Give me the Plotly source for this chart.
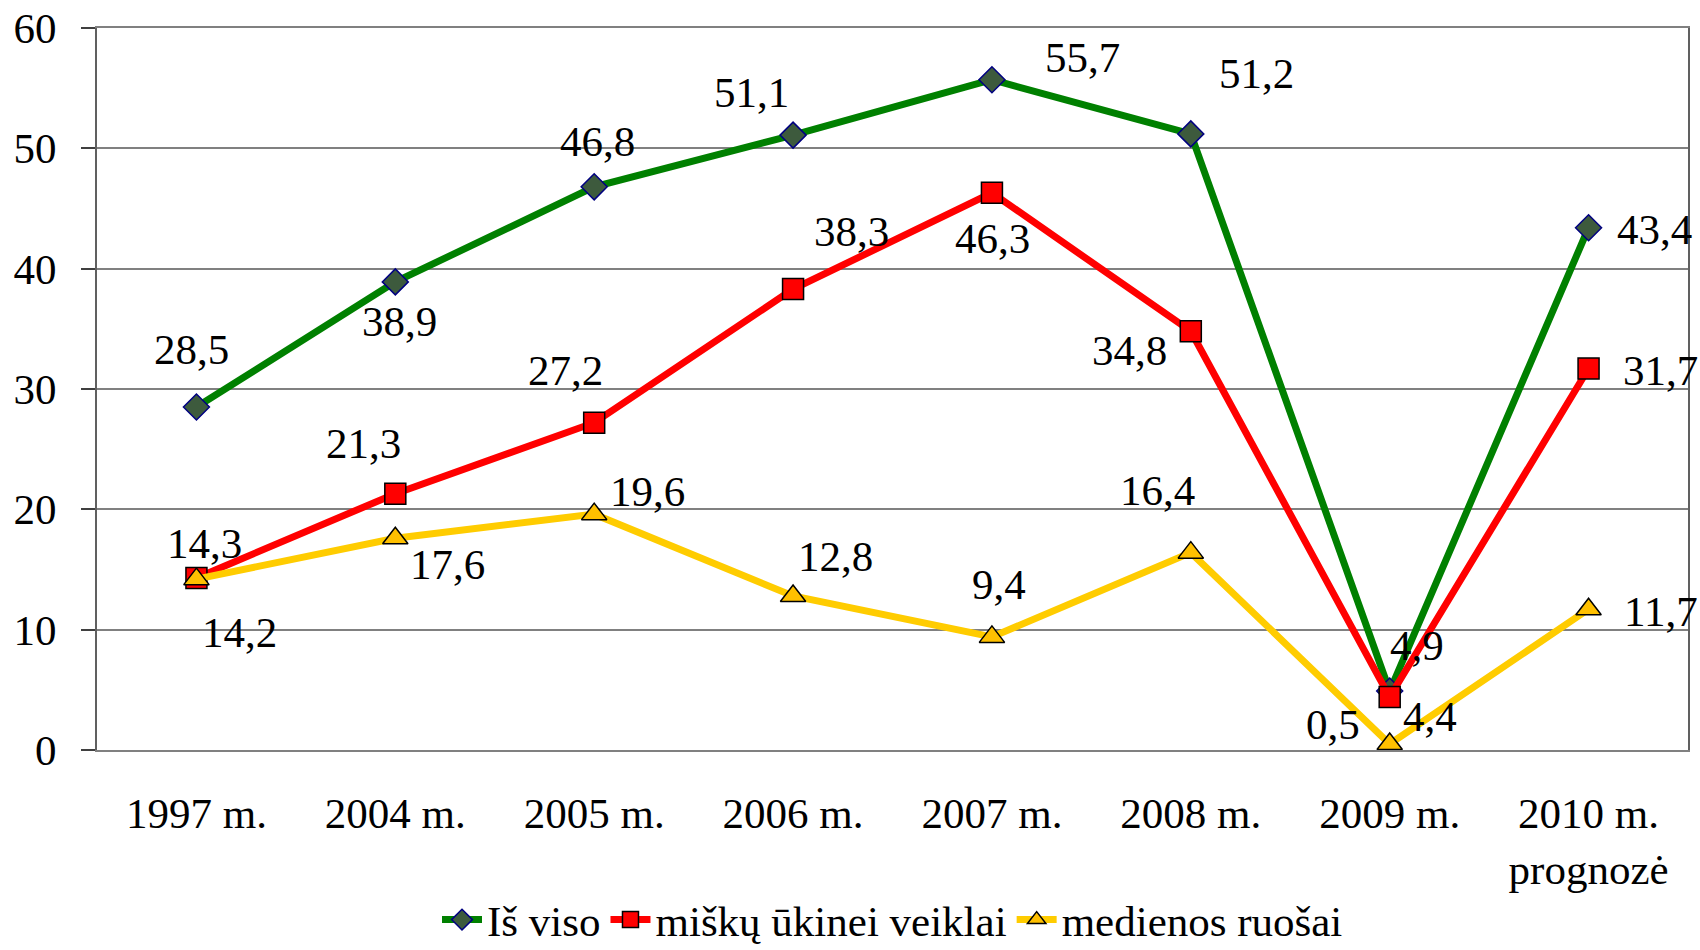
import plotly.graph_objects as go

categories = ["1997 m.", "2004 m.", "2005 m.", "2006 m.", "2007 m.", "2008 m.", "2009 m.", "2010 m.<br>prognozė"]
is_viso = [28.5, 38.9, 46.8, 51.1, 55.7, 51.2, 4.9, 43.4]
misku = [14.3, 21.3, 27.2, 38.3, 46.3, 34.8, 4.4, 31.7]
medienos = [14.2, 17.6, 19.6, 12.8, 9.4, 16.4, 0.5, 11.7]
y_ticks = [0, 10, 20, 30, 40, 50, 60]

FONT = "Liberation Serif"
FS = 43

# label offsets (screen px) for data labels
off_viso = [(-5, 58), (4, -40), (3, 45), (-42, 43), (91, 22), (66, 60), (27, 46), (66, -2)]
off_misku = [(8, 34), (-32, 50), (-29, 52), (58, 58), (1, -46), (-61, -19), (40, -19), (72, -2)]
off_med = [(43, -53), (52, -26), (53, 23), (42, 39), (7, 52), (-33, 62), (-57, 19), (72, -2)]

fig = go.Figure()
fig.add_trace(go.Scatter(x=categories, y=is_viso, name="Iš viso", mode="lines+markers",
                         line=dict(color="#008000", width=7),
                         marker=dict(symbol="diamond", size=20, color="#3d5a3d",
                                     line=dict(color="#000080", width=1.5))))
fig.add_trace(go.Scatter(x=categories, y=misku, name="miškų ūkinei veiklai", mode="lines+markers",
                         line=dict(color="#ff0000", width=7),
                         marker=dict(symbol="square", size=21, color="#ff0000",
                                     line=dict(color="#000000", width=1.5))))
fig.add_trace(go.Scatter(x=categories, y=medienos, name="medienos ruošai", mode="lines+markers",
                         line=dict(color="#ffcc00", width=7),
                         marker=dict(symbol="triangle-up", size=22, color="#ffc000",
                                     line=dict(color="#000000", width=1.5))))

def fmt(v):
    return f"{v:.1f}".replace(".", ",")

for vals, offs in ((is_viso, off_viso), (misku, off_misku), (medienos, off_med)):
    for c, v, (dx, dy) in zip(categories, vals, offs):
        fig.add_annotation(x=c, y=v, text=fmt(v), showarrow=False,
                           xshift=dx, yshift=dy,
                           font=dict(family=FONT, size=FS, color="#000000"))

fig.update_layout(
    width=1700, height=950,
    margin=dict(l=97, r=12, t=28, b=200, autoexpand=False),
    paper_bgcolor="white", plot_bgcolor="white",
    font=dict(family=FONT, size=FS, color="#000000"),
    showlegend=True,
    legend=dict(orientation="h", x=0.5, xanchor="center", y=-0.235, yanchor="middle",
                font=dict(family=FONT, size=FS), itemwidth=40, tracegroupgap=0),
)
fig.update_xaxes(type="category", range=[-0.5, 7.5], showgrid=False, automargin=False,
                 showline=True, linecolor="#808080", linewidth=2, mirror=True,
                 ticks="", ticklabelstandoff=24,
                 tickfont=dict(family=FONT, size=FS))
fig.update_yaxes(range=[0, 60], tickvals=y_ticks, showgrid=True, gridcolor="#808080", gridwidth=1.5,
                 showline=True, linecolor="#606060", linewidth=2, mirror=True, automargin=False,
                 ticks="outside", ticklen=14, tickcolor="#404040", tickwidth=1.5,
                 ticklabelstandoff=16, zeroline=False,
                 tickfont=dict(family=FONT, size=FS))

fig.write_html("out.html", config={"displayModeBar": False},
               post_script="document.body.style.margin='0';document.body.style.overflow='hidden';")
